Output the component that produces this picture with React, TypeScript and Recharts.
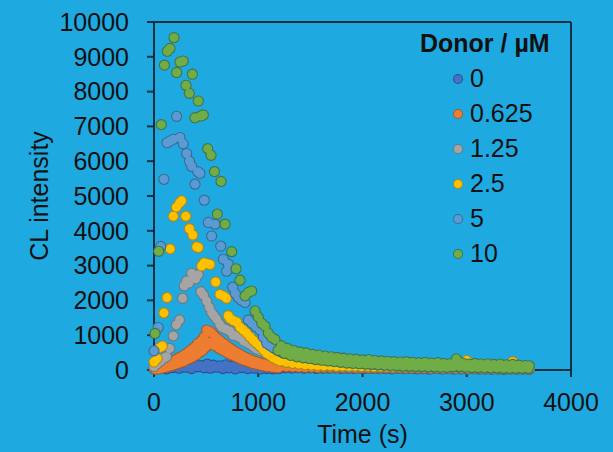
import { ScatterChart, Scatter, XAxis, YAxis, ReferenceLine, Legend } from 'recharts'

const FONT = '"Liberation Sans", Arial, sans-serif'
const BG = '#1fa9e1'
const AXIS = '#12303f'
const INK = '#111111'

// [time (s), CL intensity]
const donor0: [number, number][] = [
  [0, 40], [30, 150], [60, 60], [90, 130], [120, 30], [150, 160], [180, 70], [210, 140], [240, 50], [270, 170],
  [300, 80], [330, 150], [360, 40], [390, 160], [420, 90], [450, 130], [480, 60], [510, 170], [540, 50],
  [570, 140], [600, 80], [630, 120], [660, 40], [690, 150], [720, 60], [750, 110], [780, 30], [810, 130],
  [840, 70], [870, 100], [900, 40], [930, 120], [960, 50], [990, 90], [1020, 30], [1050, 110], [1080, 40],
  [1110, 80], [1140, 30], [1170, 90], [1200, 40], [1260, 60], [1320, 55], [1380, 65], [1440, 50], [1500, 60],
  [1560, 45], [1620, 55], [1680, 50], [1740, 60], [1800, 45], [1860, 50], [1920, 40], [1980, 55], [2040, 45],
  [2100, 50], [2160, 40], [2220, 45], [2280, 35], [2340, 50], [2400, 40], [2460, 45], [2520, 35], [2580, 40],
  [2640, 30], [2700, 45], [2760, 35], [2820, 40], [2880, 30], [2940, 35], [3000, 25], [3060, 40], [3120, 30],
  [3180, 35], [3240, 25], [3300, 30], [3360, 20], [3420, 35], [3480, 25], [3540, 30], [3600, 20],
]

const donor0625: [number, number][] = [
  [0, 40], [15, 20], [30, 60], [45, 30], [60, 90], [75, 50], [90, 130], [105, 70], [120, 170], [135, 90],
  [150, 210], [165, 120], [180, 260], [195, 150], [210, 300], [225, 180], [240, 350], [255, 210], [270, 400],
  [285, 240], [300, 450], [315, 290], [330, 520], [345, 330], [360, 590], [375, 380], [390, 660], [405, 430],
  [420, 760], [435, 500], [450, 830], [465, 560], [480, 950], [495, 650], [505, 1150], [518, 800], [530, 1120],
  [542, 760], [555, 1060], [567, 720], [580, 980], [595, 690], [610, 900], [625, 620], [640, 830], [655, 570],
  [670, 760], [685, 520], [700, 690], [715, 470], [730, 630], [745, 430], [760, 570], [775, 390], [790, 510],
  [805, 350], [820, 460], [835, 310], [850, 410], [865, 270], [880, 360], [895, 240], [910, 320], [925, 210],
  [940, 280], [955, 180], [970, 250], [985, 160], [1000, 220], [1015, 140], [1030, 190], [1045, 120],
  [1060, 170], [1075, 100], [1090, 150], [1105, 90], [1120, 130], [1135, 80], [1150, 120], [1165, 70],
  [1180, 110], [1195, 60], [1210, 100], [1270, 90], [1330, 85], [1390, 80], [1450, 70], [1510, 75], [1570, 65],
  [1630, 70], [1690, 60], [1750, 65], [1810, 55], [1870, 60], [1930, 50], [1990, 55], [2050, 50], [2110, 55],
  [2170, 45], [2230, 50], [2290, 45], [2350, 50], [2410, 40], [2470, 45], [2530, 40], [2590, 45], [2650, 35],
  [2710, 40], [2770, 35], [2830, 40], [2890, 35], [2950, 40], [3010, 30], [3070, 35], [3130, 30], [3190, 35],
  [3250, 30], [3310, 35], [3370, 25], [3430, 30], [3490, 25], [3550, 30], [3600, 25],
]

const donor125: [number, number][] = [
  [0, 100], [30, 180], [60, 260], [90, 330], [120, 380], [150, 620], [185, 980], [215, 1300], [245, 1440],
  [275, 2060], [290, 2420], [313, 2560], [335, 2500], [361, 2780], [380, 2650], [400, 2620], [425, 2740],
  [450, 2250], [475, 2150], [505, 1980], [530, 1800], [553, 1650], [575, 1560], [601, 1460], [630, 1320],
  [650, 1230], [690, 1170], [730, 1110], [760, 1000], [790, 980], [825, 930], [860, 830], [890, 790], [921, 740],
  [955, 660], [985, 600], [1020, 560], [1050, 520], [1080, 470], [1110, 430], [1145, 390], [1177, 350],
  [1210, 310], [1270, 270], [1330, 230], [1390, 200], [1450, 180], [1510, 150], [1570, 140], [1630, 120],
  [1690, 110], [1750, 100], [1810, 95], [1870, 90], [1930, 85], [1990, 80], [2050, 80], [2110, 75], [2170, 70],
  [2230, 70], [2290, 65], [2350, 70], [2410, 60], [2470, 65], [2530, 60], [2590, 60], [2650, 55], [2710, 60],
  [2770, 50], [2830, 55], [2890, 50], [2950, 55], [3010, 45], [3070, 50], [3130, 45], [3190, 50], [3250, 40],
  [3310, 45], [3370, 40], [3430, 45], [3490, 40], [3550, 40], [3600, 35],
]

const donor25: [number, number][] = [
  [0, 230], [30, 330], [60, 650], [80, 690], [95, 1640], [125, 2080], [155, 3480], [185, 4420], [215, 4680],
  [245, 4800], [265, 4860], [305, 4420], [340, 4060], [372, 3880], [409, 3540], [425, 3520], [457, 2990],
  [480, 3080], [505, 3060], [537, 3030], [591, 2530], [633, 2170], [665, 2130], [695, 2060], [712, 1560],
  [729, 1480], [760, 1420], [793, 1380], [825, 1230], [857, 1150], [889, 1060], [921, 950], [953, 850],
  [985, 770], [1017, 680], [1049, 580], [1081, 480], [1113, 420], [1145, 350], [1177, 300], [1210, 260],
  [1270, 220], [1330, 190], [1390, 170], [1450, 150], [1510, 140], [1570, 130], [1630, 120], [1690, 125],
  [1750, 110], [1810, 115], [1870, 105], [1930, 110], [1990, 100], [2050, 105], [2110, 95], [2170, 100],
  [2230, 110], [2290, 95], [2350, 100], [2410, 90], [2470, 95], [2530, 100], [2590, 90], [2650, 95], [2710, 85],
  [2770, 90], [2830, 95], [2890, 110], [2950, 90], [3000, 270], [3060, 90], [3120, 80], [3180, 95], [3240, 85],
  [3300, 80], [3360, 90], [3440, 240], [3500, 80], [3560, 70], [3600, 75],
]

const donor5: [number, number][] = [
  [0, 550], [40, 1220], [65, 3550], [95, 5480], [125, 6530], [153, 6580], [185, 6630], [217, 7290], [249, 6680],
  [280, 6500], [313, 6220], [340, 6000], [361, 5850], [393, 5340], [420, 5700], [441, 5650], [483, 4880],
  [521, 4240], [553, 3850], [585, 4190], [640, 3560], [665, 3180], [697, 2840], [713, 3040], [755, 2380],
  [780, 2200], [809, 2080], [840, 2000], [873, 1940], [905, 1440], [940, 1350], [975, 1250], [1017, 1150],
  [1049, 950], [1081, 770], [1113, 700], [1145, 640], [1177, 580], [1210, 530], [1240, 490], [1300, 450],
  [1360, 420], [1420, 380], [1480, 350], [1540, 320], [1600, 300], [1660, 280], [1720, 260], [1780, 240],
  [1840, 220], [1900, 200], [1960, 190], [2020, 180], [2080, 170], [2140, 160], [2200, 150], [2260, 145],
  [2320, 140], [2380, 130], [2440, 125], [2500, 120], [2560, 115], [2620, 110], [2680, 105], [2740, 100],
  [2800, 100], [2860, 95], [2920, 90], [2980, 90], [3040, 85], [3100, 80], [3160, 80], [3220, 75], [3280, 75],
  [3340, 70], [3400, 70], [3460, 65], [3520, 60], [3580, 60],
]

const donor10: [number, number][] = [
  [10, 1050], [45, 3410], [70, 7050], [100, 8760], [128, 9160], [153, 9240], [192, 9550], [217, 8550],
  [249, 8850], [280, 8880], [307, 8180], [339, 7950], [368, 8500], [393, 7250], [425, 7730], [450, 7300],
  [473, 7330], [515, 6360], [547, 6170], [580, 5700], [607, 4480], [643, 5420], [681, 4190], [745, 3400],
  [787, 2910], [825, 2580], [873, 2130], [905, 2230], [937, 2270], [969, 1700], [1000, 1520], [1033, 1340],
  [1065, 1260], [1096, 1060], [1128, 940], [1160, 880], [1190, 560], [1220, 700], [1250, 480], [1280, 620],
  [1310, 420], [1340, 560], [1370, 380], [1400, 520], [1430, 350], [1460, 490], [1490, 330], [1520, 450],
  [1550, 300], [1580, 430], [1610, 280], [1640, 400], [1670, 260], [1700, 380], [1730, 240], [1760, 360],
  [1790, 220], [1820, 340], [1850, 200], [1880, 320], [1910, 190], [1940, 310], [1970, 180], [2000, 290],
  [2030, 170], [2060, 300], [2090, 160], [2120, 270], [2150, 150], [2180, 260], [2210, 140], [2240, 250],
  [2270, 130], [2300, 240], [2330, 120], [2360, 230], [2390, 110], [2420, 240], [2450, 110], [2480, 220],
  [2510, 100], [2540, 210], [2570, 100], [2600, 220], [2630, 90], [2660, 200], [2690, 90], [2720, 210],
  [2750, 80], [2780, 190], [2810, 80], [2840, 180], [2870, 90], [2900, 320], [2930, 100], [2960, 200],
  [2990, 80], [3020, 170], [3050, 70], [3080, 190], [3110, 70], [3140, 170], [3170, 60], [3200, 180],
  [3230, 60], [3260, 160], [3290, 60], [3320, 170], [3350, 50], [3380, 150], [3410, 50], [3440, 160],
  [3470, 50], [3500, 140], [3530, 50], [3560, 130], [3590, 50], [3600, 120],
]

const xTicks = [0, 1000, 2000, 3000, 4000]
const yTicks = [0, 1000, 2000, 3000, 4000, 5000, 6000, 7000, 8000, 9000, 10000]

const series = [
  { name: '0', data: donor0, fill: '#4472c4', stroke: '#2a4f8c' },
  { name: '0.625', data: donor0625, fill: '#ed7d31', stroke: '#9c5a30' },
  { name: '1.25', data: donor125, fill: '#a5a5a5', stroke: '#6c7a82' },
  { name: '2.5', data: donor25, fill: '#ffc000', stroke: '#a88a20' },
  { name: '5', data: donor5, fill: '#5b9bd5', stroke: '#3a6a92' },
  { name: '10', data: donor10, fill: '#70ad47', stroke: '#3f7448' },
]

const tickStyle = { fill: INK, fontSize: 25, fontFamily: FONT }

function DonorLegend() {
  return (
    <div style={{ fontFamily: FONT, color: INK, fontSize: 25 }}>
      <div style={{ fontWeight: 700, lineHeight: '35px', whiteSpace: 'nowrap' }}>Donor / µM</div>
      {series.map(s => (
        <div key={s.name} style={{ position: 'relative', height: 35, lineHeight: '35px', paddingLeft: 50 }}>
          <svg width={12} height={12} style={{ position: 'absolute', left: 32, top: 12 }}>
            <circle cx={6} cy={6} r={5} fill={s.stroke} />
            <circle cx={6} cy={6} r={4} fill={s.fill} />
          </svg>
          {s.name}
        </div>
      ))}
    </div>
  )
}

function YLabel({ viewBox }: any) {
  const x = viewBox.x + 39
  const y = viewBox.y + viewBox.height / 2
  return (
    <text x={x} y={y} transform={`rotate(-90 ${x} ${y})`} textAnchor="middle" dominantBaseline="central"
      fill={INK} fontSize={25} fontFamily={FONT}>
      CL intensity
    </text>
  )
}

export default function App() {
  return (
    <div style={{ position: 'absolute', left: 0, top: 0, width: 613, height: 452, background: BG }}>
      <ScatterChart width={613} height={452} margin={{ top: 22, right: 42, bottom: 0, left: 0 }}>
        <XAxis
          type="number"
          dataKey="t"
          domain={[0, 4000]}
          ticks={xTicks}
          height={82}
          stroke={AXIS}
          strokeWidth={2}
          tickSize={7}
          tickMargin={16}
          tick={tickStyle}
          label={{ value: 'Time (s)', position: 'insideBottom', offset: 9, fill: INK, fontSize: 25, fontFamily: FONT }}
        />
        <YAxis
          type="number"
          dataKey="v"
          domain={[0, 10000]}
          ticks={yTicks}
          width={154}
          stroke={AXIS}
          strokeWidth={2}
          tickSize={7}
          tickMargin={18}
          tick={tickStyle}
          label={{ content: YLabel }}
        />
        <ReferenceLine y={10000} stroke={AXIS} strokeWidth={2} />
        <ReferenceLine x={4000} stroke={AXIS} strokeWidth={2} />
        {series.flatMap(s => {
          const pts = s.data.map(([t, v]) => ({ t, v }))
          // outline layer first, then the fills, so overlapping dots merge into one blob
          return [
            <Scatter
              key={s.name + '-edge'}
              name={s.name + '-edge'}
              data={pts}
              fill={s.stroke}
              legendType="none"
              isAnimationActive={false}
              shape={(p: any) => <circle cx={p.cx} cy={p.cy} r={5.6} fill={s.stroke} />}
            />,
            <Scatter
              key={s.name}
              name={s.name}
              data={pts}
              fill={s.fill}
              legendType="circle"
              isAnimationActive={false}
              shape={(p: any) => <circle cx={p.cx} cy={p.cy} r={4.5} fill={s.fill} />}
            />,
          ]
        })}
        <Legend
          layout="vertical"
          align="center"
          verticalAlign="middle"
          content={DonorLegend}
          wrapperStyle={{ left: 420, top: 26, width: 170 }}
        />
      </ScatterChart>
    </div>
  )
}
